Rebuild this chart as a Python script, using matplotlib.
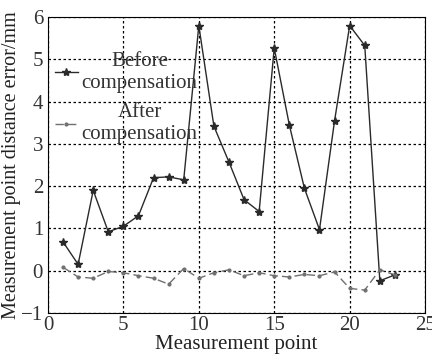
import matplotlib
matplotlib.use('Agg')
from matplotlib import pyplot as plt

plt.rcParams['font.family'] = ['Liberation Serif', 'DejaVu Serif']

points = list(range(1, 24))
before = [0.68, 0.15, 1.9, 0.92, 1.05, 1.3, 2.2, 2.22, 2.15, 5.8, 3.42, 2.57,
          1.68, 1.4, 5.27, 3.45, 1.95, 0.97, 3.55, 5.8, 5.33, -0.24, -0.1]
after = [0.08, -0.15, -0.18, -0.02, -0.05, -0.12, -0.18, -0.32, 0.05, -0.18,
         -0.05, 0.02, -0.12, -0.05, -0.12, -0.15, -0.09, -0.12, -0.03, -0.42,
         -0.46, 0.02, -0.1]

fig = plt.figure(figsize=(4.32, 3.58), dpi=100)
ax = fig.add_axes([0.111, 0.126, 0.873, 0.826])

ax.plot(points, before, color='#2a2a2a', lw=1.0, marker='*', ms=6,
        label='Before\ncompensation')
ax.plot(points, after, color='#707070', lw=1.0, ls=(0, (6, 3)), marker='.',
        ms=4, label='After\ncompensation')

ax.set_xlim(0, 25)
ax.set_ylim(-1, 6)
ax.set_xticks([0, 5, 10, 15, 20, 25])
ax.set_yticks(range(-1, 7))
ax.grid(True, color='black', ls=(0, (2, 2)), lw=0.9)
ax.tick_params(labelsize=15, direction='in', length=0, colors='#333333')
ax.tick_params(axis='x', pad=2)
ax.set_xlabel('Measurement point', fontsize=15, labelpad=0, color='#222222')
ax.set_ylabel('Measurement point distance error/mm', fontsize=14.5,
              labelpad=0, color='#222222')

leg = ax.legend(loc='upper left', bbox_to_anchor=(-0.032, 0.945),
                frameon=False, fontsize=15, handlelength=1.1,
                handletextpad=0.2, labelspacing=0.5)
for t in leg.get_texts():
    t.set_multialignment('center')
    t.set_color('#333333')

fig.savefig('out.png', dpi=100)
